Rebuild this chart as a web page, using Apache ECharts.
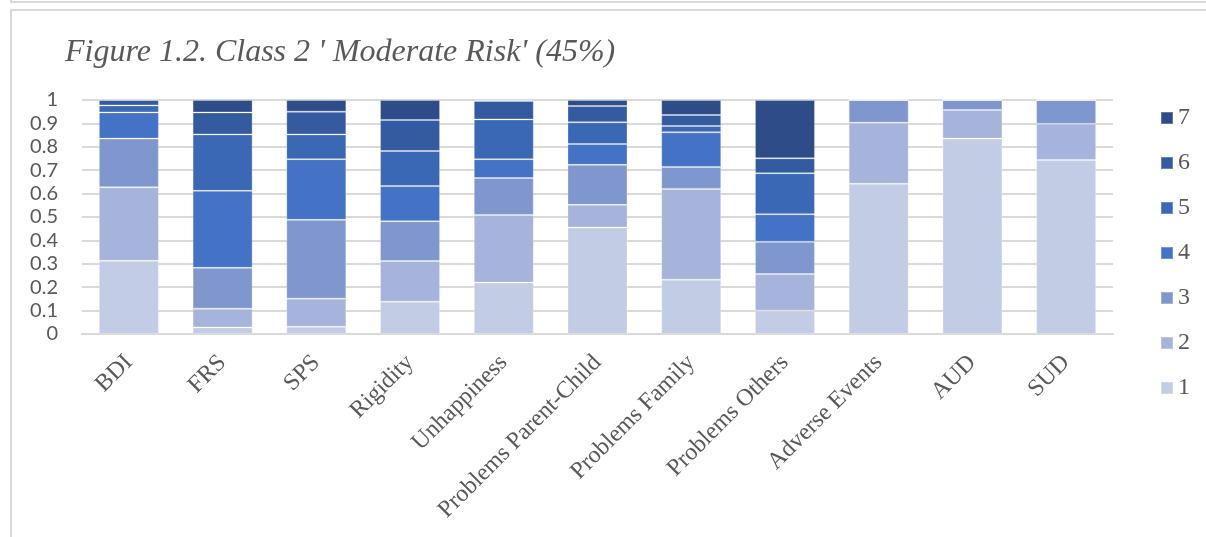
<!DOCTYPE html>
<html>
<head>
<meta charset="utf-8">
<script src="https://cdn.jsdelivr.net/npm/echarts@6/dist/echarts.min.js"></script>
<style>
  html, body { margin: 0; padding: 0; background: #ffffff; }
  #chart { width: 1206px; height: 537px; }
</style>
</head>
<body>
<div id="chart"></div>
<script>
// Categories along the x axis
const categories = ['BDI', 'FRS', 'SPS', 'Rigidity', 'Unhappiness', 'Problems Parent-Child',
  'Problems Family', 'Problems Others', 'Adverse Events', 'AUD', 'SUD'];

// Share of responses per level (1 = lowest, 7 = highest)
const level1 = [0.313, 0.028, 0.031, 0.138, 0.220, 0.455, 0.232, 0.100, 0.642, 0.835, 0.744];
const level2 = [0.314, 0.080, 0.120, 0.174, 0.289, 0.097, 0.388, 0.156, 0.261, 0.122, 0.154];
const level3 = [0.208, 0.175, 0.337, 0.170, 0.158, 0.171, 0.094, 0.138, 0.097, 0.043, 0.102];
const level4 = [0.112, 0.329, 0.259, 0.150, 0.080, 0.089, 0.148, 0.118, 0, 0, 0];
const level5 = [0.030, 0.241, 0.106, 0.150, 0.170, 0.093, 0.027, 0.175, 0, 0, 0];
const level6 = [0.023, 0.094, 0.097, 0.133, 0.079, 0.069, 0.047, 0.064, 0, 0, 0];
const level7 = [0.000, 0.053, 0.050, 0.085, 0.004, 0.026, 0.064, 0.249, 0, 0, 0];

const levelNames = ['1', '2', '3', '4', '5', '6', '7'];
const levelValues = [level1, level2, level3, level4, level5, level6, level7];
const levelColors = ['#c2cce5', '#a6b3da', '#8097ce', '#4472c4', '#3a68b4', '#345b9f', '#2e4c88'];

// Y axis tick labels
const yTicks = ['0', '0.1', '0.2', '0.3', '0.4', '0.5', '0.6', '0.7', '0.8', '0.9', '1'];

const textGrey = '#595959';
const lineGrey = '#d9d9d9';

const series = levelNames.map((name, i) => ({
  name: name,
  type: 'bar',
  stack: 'total',
  barCategoryGap: '36%',
  data: levelValues[i],
  itemStyle: {
    color: levelColors[i],
    borderColor: 'rgba(255,255,255,0.25)',
    borderWidth: 1
  },
  emphasis: { disabled: true }
}));

const chart = echarts.init(document.getElementById('chart'), null, { renderer: 'canvas' });
chart.setOption({
  animation: false,
  backgroundColor: '#ffffff',
  title: {
    text: "Figure 1.2. Class 2 ' Moderate Risk' (45%)",
    left: 60,
    top: 32,
    textStyle: {
      fontFamily: 'Liberation Serif',
      fontStyle: 'italic',
      fontWeight: 'normal',
      fontSize: 32,
      color: textGrey
    }
  },
  legend: {
    orient: 'vertical',
    left: 1155,
    top: 101,
    itemWidth: 12,
    itemHeight: 12,
    itemGap: 21,
    icon: 'rect',
    data: levelNames.slice().reverse(),
    textStyle: {
      fontFamily: 'Liberation Serif',
      fontSize: 24,
      lineHeight: 24,
      color: textGrey
    }
  },
  grid: {
    left: 82,
    right: 93,
    top: 100,
    bottom: 203,
    containLabel: false
  },
  xAxis: {
    type: 'category',
    data: categories,
    axisTick: { show: false },
    axisLine: { lineStyle: { color: lineGrey, width: 2 } },
    axisLabel: {
      interval: 0,
      rotate: 45,
      margin: 25,
      fontFamily: 'Liberation Serif',
      fontSize: 24,
      color: textGrey
    }
  },
  yAxis: {
    type: 'value',
    min: 0,
    max: 1,
    interval: 0.1,
    axisLine: { show: false },
    axisTick: { show: false },
    splitLine: { lineStyle: { color: lineGrey, width: 2 } },
    axisLabel: {
      margin: 24,
      fontFamily: 'Lato',
      fontSize: 20,
      color: textGrey,
      formatter: (v) => yTicks[Math.round(v * 10)]
    }
  },
  graphic: [
    // page frame lines around the figure
    { type: 'line', shape: { x1: 10, y1: 2, x2: 1206, y2: 2 }, style: { stroke: lineGrey, lineWidth: 2 } },
    { type: 'line', shape: { x1: 11, y1: 0, x2: 11, y2: 3 }, style: { stroke: lineGrey, lineWidth: 2 } },
    { type: 'line', shape: { x1: 10, y1: 10, x2: 1206, y2: 10 }, style: { stroke: lineGrey, lineWidth: 2 } },
    { type: 'line', shape: { x1: 11, y1: 9, x2: 11, y2: 537 }, style: { stroke: lineGrey, lineWidth: 2 } }
  ],
  series: series
});
</script>
</body>
</html>
